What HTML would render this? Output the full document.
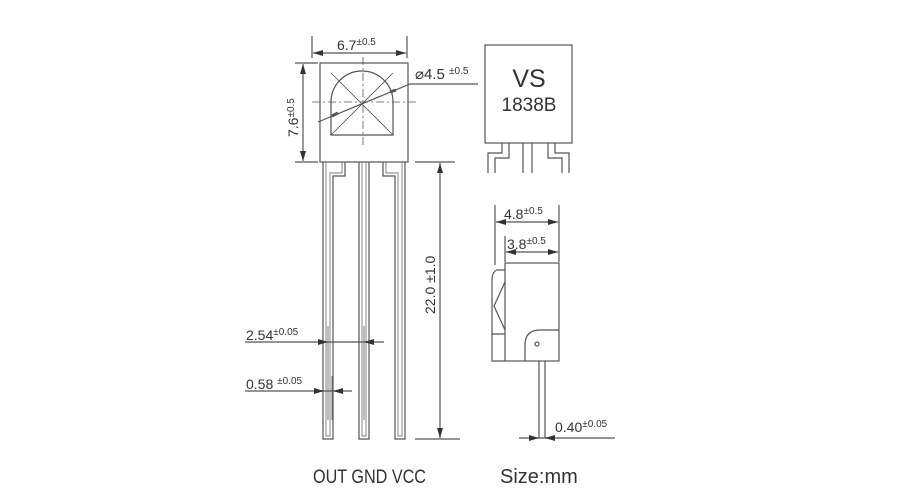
<!DOCTYPE html>
<html><head><style>
html,body{margin:0;padding:0;background:#fff;width:900px;height:500px;overflow:hidden}
svg{display:block}
text{font-family:"Liberation Sans",sans-serif;fill:#333}
</style></head><body>
<svg width="900" height="500" viewBox="0 0 900 500" xmlns="http://www.w3.org/2000/svg">
<defs>
<marker id="a" viewBox="0 0 10 6" refX="10" refY="3" markerWidth="10" markerHeight="6" orient="auto-start-reverse" markerUnits="userSpaceOnUse"><path d="M0,0L10,3L0,6z" fill="#333"/></marker>
</defs>
<g stroke="#555" stroke-width="1.2" fill="none">
<rect x="320" y="63" width="88" height="99"/>
<path d="M331,135 V102 A31,31 0 0 1 393,102 V135 Z"/>
<path d="M331,135 L393,73 M331,73 L393,135" stroke-width="0.8"/>
<path d="M312,102 H418 M363,57 V148" stroke-dasharray="8,3,2,3" stroke-width="0.8"/>
<path d="M312,36 V58 M407,36 V58"/>
<path d="M313,53 H406" marker-start="url(#a)" marker-end="url(#a)"/>
<path d="M295,63 H318 M295,162 H318"/>
<path d="M303,64 V161" marker-start="url(#a)" marker-end="url(#a)"/>
<path d="M318,122 L410,84 H478"/>
<path d="M332,116 L338,113 M390,92 L396,90" stroke-width="3"/>
<path d="M323,162 V439 H333 V176 H345 V162"/>
<path d="M326,162 V436 H330 V173 H342 V162" stroke-width="0.7"/>
<path d="M359,162 V439 H369 V162"/>
<path d="M362,162 V436 H366 V162" stroke-width="0.7"/>
<path d="M405,162 V439 H395 V176 H383 V162"/>
<path d="M402,162 V436 H398 V173 H386 V162" stroke-width="0.7"/>
<path d="M415,162 H455 M415,439 H460"/>
<path d="M440,163 V438" marker-start="url(#a)" marker-end="url(#a)"/>
<path d="M328,326 V420 M364,326 V420" stroke-width="0.8"/>
<path d="M245,342 H384"/>
<path d="M318,342 H328" marker-end="url(#a)"/>
<path d="M374,342 H364" marker-end="url(#a)"/>
<path d="M332,376 V420" stroke-width="0.8"/>
<path d="M245,391 H352"/>
<path d="M314,391 H324" marker-end="url(#a)"/>
<path d="M342,391 H333" marker-end="url(#a)"/>
<rect x="485" y="45" width="87" height="98"/>
<path d="M488,173 V153 H502 V143 M495,173 V158 H509 V143"/>
<path d="M523,143 V173 M532,143 V173"/>
<path d="M569,173 V153 H555 V143 M562,173 V158 H548 V143"/>
<rect x="505" y="263" width="54" height="98"/>
<path d="M505,270 H497 Q492,272 492,280 V361 H505"/>
<path d="M492,334 H505 M505,282 L494,306 L505,330"/>
<path d="M525,361 V345 Q525,330 540,330 H559"/>
<circle cx="537" cy="344" r="2"/>
<path d="M539,361 V438 M545,361 V438"/>
<path d="M495,205 V265 M505,236 V262 M559,205 V262"/>
<path d="M496,222 H558" marker-start="url(#a)" marker-end="url(#a)"/>
<path d="M506,252 H558" marker-start="url(#a)" marker-end="url(#a)"/>
<path d="M519,438 H615"/>
<path d="M529,438 H539" marker-end="url(#a)"/>
<path d="M555,438 H545" marker-end="url(#a)"/>
</g>
<text x="337" y="50" font-size="14">6.7<tspan font-size="10" dy="-5">±0.5</tspan></text>
<text x="415" y="79" font-size="15">⌀4.5 <tspan font-size="10" dy="-5">±0.5</tspan></text>
<text transform="translate(298,137) rotate(-90)" font-size="14">7.6<tspan font-size="10" dy="-4">±0.5</tspan></text>
<text transform="translate(435,314) rotate(-90)" font-size="14">22.0 ±1.0</text>
<text x="246" y="340" font-size="14">2.54<tspan font-size="10" dy="-5">±0.05</tspan></text>
<text x="246" y="389" font-size="14">0.58 <tspan font-size="10" dy="-5">±0.05</tspan></text>
<text x="529" y="87" font-size="25" text-anchor="middle">VS</text>
<text x="529" y="111" font-size="19" text-anchor="middle">1838B</text>
<text x="504" y="219" font-size="14">4.8<tspan font-size="10" dy="-5">±0.5</tspan></text>
<text x="507" y="249" font-size="14">3.8<tspan font-size="10" dy="-5">±0.5</tspan></text>
<text x="555" y="432" font-size="14">0.40<tspan font-size="10" dy="-5">±0.05</tspan></text>
<text x="313" y="483" font-size="19" textLength="113" lengthAdjust="spacingAndGlyphs">OUT GND VCC</text>
<text x="500" y="483" font-size="20">Size:mm</text>
</svg>
</body></html>
